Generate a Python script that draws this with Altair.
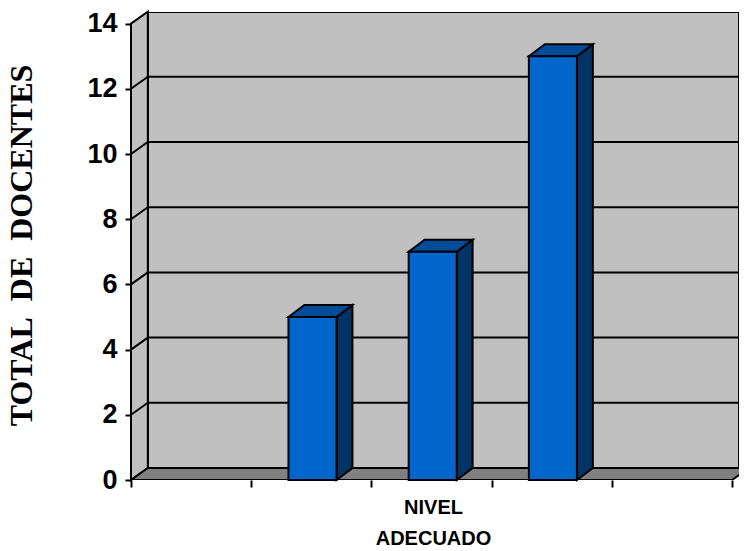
import altair as alt
import pandas as pd

# values
centers = [1.51, 2.51, 3.51]
values = [5, 7, 13]
y_ticks = [0, 2, 4, 6, 8, 10, 12, 14]
x_ticks = [0, 1, 2, 3, 4, 5]
bar_w = 0.4
dx = 0.14     # oblique depth of the walls, x units
bar_dx = 0.132  # oblique depth of the bars, x units
dy = 0.368    # oblique depth, y units
x_max = 5.058
y_max = 14.356

FONT = "Liberation Sans"
xs = alt.Scale(domain=[0, x_max], nice=False, zero=False)
ys = alt.Scale(domain=[0, y_max], nice=False, zero=False)
x_axis = alt.Axis(
    values=x_ticks, labels=False, domain=False, grid=False, ticks=True,
    tickColor="black", tickWidth=2, tickSize=7,
    title=["NIVEL", "ADECUADO"], titleFont=FONT, titleFontSize=20, titleFontWeight="bold",
    titleColor="black", titleLineHeight=31, titleX=302, titleY=27, titleBaseline="middle", titleAlign="center")
y_axis = alt.Axis(
    values=y_ticks, format="d", domain=False, grid=False, tickColor="black", tickWidth=2, tickSize=6,
    labelFont=FONT, labelFontSize=27, labelFontWeight="bold", labelColor="black", labelPadding=8,
    title="TOTAL\u00a0\u00a0DE\u00a0\u00a0DOCENTES", titleFont="Liberation Serif", titleFontSize=32,
    titleFontWeight="bold", titleColor="black", titleX=-110, titleY=233, titleAngle=270,
    titleAlign="center", titleBaseline="middle")
X = lambda f="x": alt.X(f"{f}:Q", scale=xs, axis=x_axis)
Y = lambda f="y": alt.Y(f"{f}:Q", scale=ys, axis=y_axis)
STROKE = dict(stroke="black", strokeWidth=2, strokeJoin="miter")

# back wall
wall = alt.Chart(pd.DataFrame({"x": [dx], "x2": [x_max], "y": [dy], "y2": [y_max]})).mark_rect(
    fill="#C0C0C0", **STROKE, clip=True
).encode(x=X(), x2="x2:Q", y=Y(), y2="y2:Q")

# left side wall
side_wall = alt.Chart(pd.DataFrame({"x": [0, dx], "y": [0, dy], "y2": [14, 14 + dy]})).mark_area(
    fill="#C0C0C0", orient="vertical", **STROKE
).encode(x=X(), y=Y(), y2="y2:Q")

# floor
floor = alt.Chart(pd.DataFrame({"y": [0, dy], "x": [0, dx], "x2": [5, 5 + dx]})).mark_area(
    fill="#808080", orient="horizontal", clip=True, **STROKE
).encode(y=Y(), x=X(), x2="x2:Q")

# gridlines on the back wall and the side wall
grid_vals = [v for v in y_ticks if 0 < v < 14]
grid_back = alt.Chart(pd.DataFrame({"x": dx, "x2": x_max, "y": [v + dy for v in grid_vals]})).mark_rule(
    color="black", strokeWidth=2
).encode(x=X(), x2="x2:Q", y=Y())
diag = pd.DataFrame(
    [{"v": v, "x": 0, "y": v} for v in grid_vals] + [{"v": v, "x": dx, "y": v + dy} for v in grid_vals]
)
grid_side = alt.Chart(diag).mark_line(color="black", strokeWidth=2).encode(x=X(), y=Y(), detail="v:N")

layers = [wall, side_wall, floor, grid_back, grid_side]

# bars: side, top, front
for c, v in zip(centers, values):
    l, r = c - bar_w / 2, c + bar_w / 2
    side = alt.Chart(pd.DataFrame({"x": [r, r + bar_dx], "y": [0, dy], "y2": [v, v + dy]})).mark_area(
        fill="#003366", orient="vertical", **STROKE
    ).encode(x=X(), y=Y(), y2="y2:Q")
    top = alt.Chart(pd.DataFrame({"y": [v, v + dy], "x": [l, l + bar_dx], "x2": [r, r + bar_dx]})).mark_area(
        fill="#004C99", orient="horizontal", **STROKE
    ).encode(y=Y(), x=X(), x2="x2:Q")
    front = alt.Chart(pd.DataFrame({"x": [l], "x2": [r], "y": [0], "y2": [v]})).mark_rect(
        fill="#0066CC", **STROKE
    ).encode(x=X(), x2="x2:Q", y=Y(), y2="y2:Q")
    layers += [side, top, front]

chart = alt.layer(*layers).properties(
    width=608, height=468,
    autosize=alt.AutoSizeParams(type="none"),
    padding={"left": 123, "top": 4, "right": 0, "bottom": 68},
    background="white",
).configure_view(stroke=None)

chart.save("out.html", embed_options={"renderer": "svg", "actions": False})
